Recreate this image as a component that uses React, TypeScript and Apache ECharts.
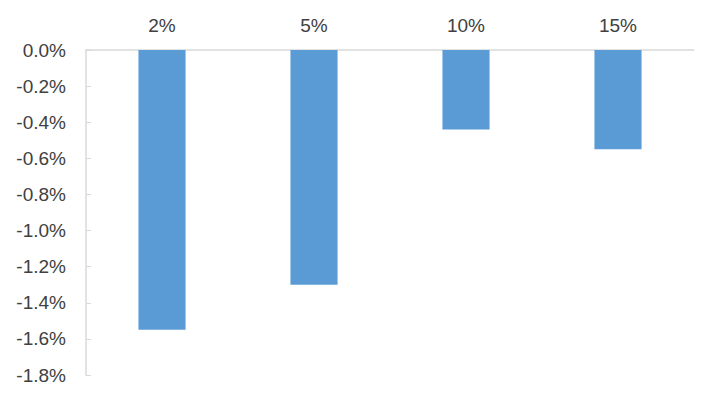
import React, { useEffect, useRef } from "react";
import * as echarts from "echarts";

const categories = ["2%", "5%", "10%", "15%"];
const values = [-1.55, -1.3, -0.44, -0.55];
const yMin = -1.8;
const yMax = 0;
const yStep = 0.2;

export default function App() {
  const ref = useRef<HTMLDivElement>(null);
  useEffect(() => {
    if (!ref.current) return;
    const chart = echarts.init(ref.current, null, { renderer: "svg" });
    chart.setOption({
      animation: false,
      grid: { left: 86, right: 23, top: 50, bottom: 24, containLabel: false },
      xAxis: {
        type: "category",
        position: "top",
        data: categories,
        axisLine: { show: true, lineStyle: { color: "#d9d9d9", width: 1.5 } },
        axisTick: { show: false },
        axisLabel: {
          color: "#404040",
          fontFamily: "Liberation Sans, Arial, sans-serif",
          fontSize: 19,
          margin: 15,
        },
      },
      yAxis: {
        type: "value",
        min: yMin,
        max: yMax,
        interval: yStep,
        axisLine: { show: true, lineStyle: { color: "#d9d9d9", width: 1.5 } },
        axisTick: { show: true, inside: true, length: 5, lineStyle: { color: "#d9d9d9" } },
        splitLine: { show: false },
        axisLabel: {
          color: "#404040",
          fontFamily: "Liberation Sans, Arial, sans-serif",
          fontSize: 19,
          margin: 20,
          formatter: (v: number) => (Math.abs(v) < 1e-9 ? "0.0" : v.toFixed(1)) + "%",
        },
      },
      series: [
        {
          type: "bar",
          data: values,
          barWidth: "31%",
          itemStyle: { color: "#5B9BD5" },
        },
      ],
    });
    return () => chart.dispose();
  }, []);
  return (
    <div
      ref={ref}
      style={{ position: "absolute", left: 0, top: 0, width: 717, height: 399, background: "#fff" }}
    />
  );
}
